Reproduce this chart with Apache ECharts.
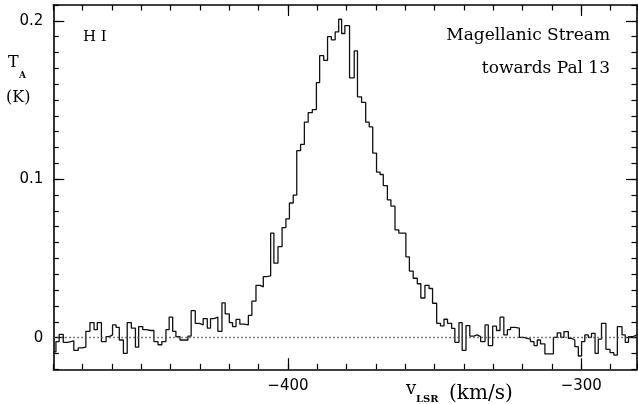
<!DOCTYPE html>
<html>
<head>
<meta charset="utf-8">
<script src="https://cdn.jsdelivr.net/npm/echarts@6/dist/echarts.min.js"></script>
<style>
html, body { margin: 0; padding: 0; background: #fff; }
#chart { width: 638px; height: 404px; }
</style>
</head>
<body>
<div id="chart"></div>
<script>
// channel left edges (km/s)
const velocity = [
  -480.0, -479.1, -478.0, -476.6, -475.1, -473.0, -471.5, -470.1, -468.9, -467.5,
  -466.1, -465.0, -463.6, -462.0, -460.9, -459.8, -458.6, -457.5, -456.1, -454.8,
  -453.4, -452.0, -450.9, -449.5, -448.2, -446.8, -445.7, -444.3, -443.0, -441.6,
  -440.5, -439.3, -438.2, -436.8, -435.5, -434.1, -433.0, -431.6, -430.2, -428.9,
  -427.5, -426.4, -425.2, -423.9, -422.5, -421.4, -420.0, -418.9, -417.7, -416.4,
  -415.0, -413.5, -412.3, -410.9, -409.5, -408.4, -407.3, -405.9, -404.8, -403.4,
  -402.0, -400.7, -399.5, -398.2, -397.0, -395.7, -394.4, -393.1, -391.7, -390.3,
  -389.2, -387.8, -386.5, -385.2, -383.9, -382.7, -381.7, -380.6, -379.0, -377.4,
  -376.3, -374.9, -373.5, -372.3, -371.1, -369.8, -368.6, -367.5, -366.1, -364.9,
  -363.5, -362.2, -361.0, -359.8, -358.6, -357.3, -355.9, -354.7, -353.3, -351.9,
  -350.7, -349.3, -348.0, -346.8, -345.6, -344.2, -343.1, -341.7, -340.6, -339.3,
  -338.0, -336.6, -335.5, -334.3, -332.8, -331.7, -330.2, -328.9, -327.7, -326.4,
  -325.2, -324.1, -322.6, -321.1, -319.8, -318.4, -317.3, -316.1, -315.0, -313.9,
  -312.4, -310.9, -309.5, -308.2, -307.0, -305.9, -304.4, -303.3, -302.2, -301.0,
  -299.9, -298.8, -297.6, -296.5, -295.3, -294.2, -293.1, -291.6, -290.2, -288.9,
  -287.7, -286.1, -285.0, -283.9, -282.3
]
// T_A (K) for each channel
const tempA = [
  -0.009, -0.0025, 0.002, -0.003, -0.002, -0.008, -0.0065, -0.006, 0.004, 0.0095,
  0.005, 0.0095, -0.0025, 0.0006, 0.0017, 0.008, 0.0065, -0.0015, -0.010, 0.0095,
  0.006, -0.006, 0.007, 0.005, 0.0045, 0.0045, -0.0025, -0.0045, -0.0025, 0.005,
  0.013, 0.004, 0.0006, -0.0015, -0.0015, 0.001, 0.017, 0.009, 0.008, 0.012,
  0.006, 0.012, 0.013, 0.004, 0.022, 0.015, 0.0095, 0.007, 0.0115, 0.0085,
  0.008, 0.014, 0.023, 0.033, 0.032, 0.0385, 0.039, 0.066, 0.047, 0.0575,
  0.0695, 0.075, 0.085, 0.090, 0.118, 0.122, 0.136, 0.142, 0.144, 0.161,
  0.178, 0.175, 0.190, 0.188, 0.193, 0.201, 0.192, 0.197, 0.164, 0.181,
  0.152, 0.1485, 0.136, 0.133, 0.1165, 0.1045, 0.103, 0.096, 0.087, 0.083,
  0.068, 0.066, 0.066, 0.051, 0.042, 0.0375, 0.034, 0.025, 0.033, 0.031,
  0.0217, 0.009, 0.0074, 0.0116, 0.009, 0.0059, -0.003, 0.0095, -0.008, 0.0076,
  0.001, 0.0017, 0.0006, -0.0025, 0.008, -0.005, 0.0072, 0.0045, 0.013, 0.0017,
  0.005, 0.0065, 0.006, 0.0002, -0.0004, -0.001, -0.0025, -0.005, -0.0015, -0.004,
  -0.0103, -0.0103, 0.0002, 0.003, 0.0002, 0.0038, -0.0004, -0.0015, -0.0057, -0.0116,
  -0.0025, 0.0017, 0.0002, 0.0027, -0.01, -0.001, 0.009, -0.0074, -0.0095, -0.011,
  0.007, 0.0017, -0.003, 0.0006, 0.0017
]
const vMin = -480
const vMax = -281
const tMin = -0.02
const tMax = 0.21
const xMajorTicks = [-400, -300]
const yMajorTicks = [0, 0.1, 0.2]

const chart = echarts.init(document.getElementById('chart'))

const spectrum = velocity.map((v, i) => [v, tempA[i]])
spectrum.push([vMax, tempA[tempA.length - 1]]) // close the last channel

const numFont = { color: '#000', fontFamily: 'DejaVu Sans', fontSize: 15 }
const textFont = 'DejaVu Serif'
const frame = () => ({ show: true, onZero: false, lineStyle: { color: '#000', width: 1.6 } })
const tickStyle = () => ({ color: '#000', width: 1.2 })

// plot box (px)
const L = 53.3, T = 5, R = 1, B = 34.7
const W = 638 - L - R, H = 404 - T - B
const minorLen = 5.5

// grid 0 is the plot; the other grids are thin strips along the frame whose split lines make the minor ticks
const grids = [
  { left: L, top: T, width: W, height: H },
  { left: L, top: T, width: W, height: minorLen },
  { left: L, top: T, width: minorLen, height: H },
  { left: L + W - minorLen, top: T, width: minorLen, height: H },
  { left: L, top: T + H - minorLen, width: W, height: minorLen }
].map((g) => Object.assign({ containLabel: false, outerBoundsMode: 'none' }, g))

function majorX(position) {
  return {
    type: 'value', gridIndex: 0, position: position, min: vMin, max: vMax,
    axisLine: frame(),
    axisTick: { show: true, inside: true, length: 11, customValues: xMajorTicks, lineStyle: tickStyle() },
    axisLabel: position === 'bottom'
      ? Object.assign({ show: true, margin: 9, customValues: xMajorTicks, formatter: (v) => String(v).replace('-', '\u2212') }, numFont)
      : { show: false },
    splitLine: { show: false }
  }
}
function majorY(position) {
  return {
    type: 'value', gridIndex: 0, position: position, min: tMin, max: tMax,
    axisLine: frame(),
    axisTick: { show: true, inside: true, length: 11, customValues: yMajorTicks, lineStyle: tickStyle() },
    axisLabel: position === 'left'
      ? Object.assign({ show: true, margin: 10, customValues: yMajorTicks }, numFont)
      : { show: false },
    splitLine: { show: false }
  }
}
function stripAxis(gridIndex, min, max, interval, ticks) {
  return {
    type: 'value', gridIndex: gridIndex, min: min, max: max, interval: interval,
    axisLine: { show: false, onZero: false }, axisTick: { show: false }, axisLabel: { show: false },
    splitLine: { show: ticks, lineStyle: tickStyle() }
  }
}

const option = {
  animation: false,
  backgroundColor: '#fff',
  grid: grids,
  xAxis: [
    majorX('bottom'), majorX('top'),
    stripAxis(1, vMin, vMax, 10, true),
    stripAxis(2, 0, 1, 1, false), stripAxis(3, 0, 1, 1, false),
    stripAxis(4, vMin, vMax, 10, true)
  ],
  yAxis: [
    majorY('left'), majorY('right'),
    stripAxis(1, 0, 1, 1, false),
    stripAxis(2, tMin, tMax, 0.01, true), stripAxis(3, tMin, tMax, 0.01, true),
    stripAxis(4, 0, 1, 1, false)
  ],
  series: [
    {
      name: 'H I',
      type: 'line',
      step: 'end',
      xAxisIndex: 0,
      yAxisIndex: 0,
      data: spectrum,
      showSymbol: false,
      symbol: 'none',
      lineStyle: { color: '#111', width: 1.3 },
      markLine: {
        silent: true,
        symbol: 'none',
        label: { show: false },
        lineStyle: { color: '#555', type: [1.5, 2.5], width: 1.4 },
        data: [{ yAxis: 0 }]
      }
    }
  ],
  graphic: [
    { type: 'text', left: 83, top: 30, style: { text: 'H I', font: '15px ' + textFont, fill: '#000' } },
    { type: 'text', x: 610, y: 36, style: { text: 'Magellanic Stream', font: '17px ' + textFont, fill: '#000', align: 'right', verticalAlign: 'middle' } },
    { type: 'text', x: 610, y: 69, style: { text: 'towards Pal 13', font: '17px ' + textFont, fill: '#000', align: 'right', verticalAlign: 'middle' } },
    // y-axis title
    { type: 'text', x: 8, y: 63, style: { text: 'T', font: '16px ' + textFont, fill: '#000', verticalAlign: 'middle' } },
    { type: 'text', x: 19, y: 76, style: { text: 'A', font: 'bold 9px ' + textFont, fill: '#000', verticalAlign: 'middle' } },
    { type: 'text', x: 6, y: 98, style: { text: '(K)', font: '16px ' + textFont, fill: '#000', verticalAlign: 'middle' } },
    // x-axis title
    { type: 'text', x: 406, y: 389, style: { text: 'v', font: '18px ' + textFont, fill: '#000', verticalAlign: 'middle' } },
    { type: 'text', x: 416, y: 399, style: { text: 'LSR', font: 'bold 10px ' + textFont, fill: '#000', verticalAlign: 'middle' } },
    { type: 'text', x: 449, y: 394, style: { text: '(km/s)', font: '20px ' + textFont, fill: '#000', verticalAlign: 'middle' } }
  ]
}

chart.setOption(option)
</script>
</body>
</html>
